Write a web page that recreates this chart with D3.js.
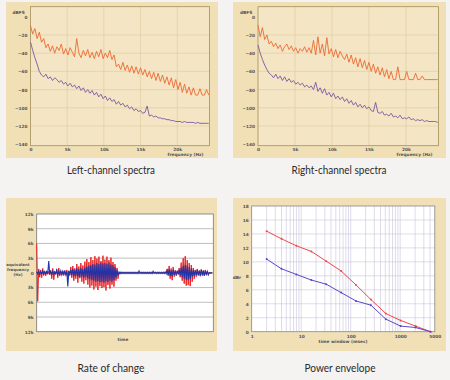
<!DOCTYPE html>
<html><head><meta charset="utf-8">
<script src="https://cdn.jsdelivr.net/npm/d3@7"></script>
<style>body{margin:0;background:#f4f3f1;} svg{display:block}</style>
</head><body><svg id="c" width="450" height="380"></svg>
<script>
// ---------- DATA ----------
const binHz = 300; // spectrum bin spacing
const leftOrange = [-10,-19,-13,-24,-17,-28,-24,-34,-30,-38,
 -32,-40,-33,-37,-30,-41,-35,-42,-34,-39,
 -44,-24,-40,-45,-37,-43,-36,-45,-39,-46,
 -38,-44,-36,-46,-40,-45,-37,-47,-42,-55,
 -52,-58,-50,-59,-53,-61,-54,-62,-55,-63,
 -56,-64,-58,-66,-60,-68,-61,-70,-62,-71,
 -64,-73,-66,-75,-67,-78,-69,-80,-72,-83,
 -74,-84,-77,-86,-78,-86,-86,-79,-86,-86,
 -80,-86];
const leftPurple = [-28,-37,-45,-52,-60,-64,-66,-63,-68,-66,
 -70,-67,-69,-72,-70,-74,-72,-76,-73,-77,
 -75,-79,-76,-81,-78,-83,-80,-84,-81,-86,
 -83,-88,-85,-90,-87,-92,-89,-93,-91,-96,
 -93,-97,-95,-99,-97,-101,-99,-103,-101,-104,
 -103,-106,-105,-98,-109,-108,-110,-109,-111,-111,
 -112,-112,-113,-113,-114,-114,-115,-115,-115,-116,
 -115,-116,-116,-116,-116,-117,-116,-117,-117,-117,
 -117,-117];
const rightOrange = [-9,-22,-12,-25,-20,-30,-27,-33,-29,-35,
 -31,-38,-33,-30,-36,-32,-38,-34,-40,-35,
 -38,-33,-39,-34,-40,-26,-42,-22,-40,-30,
 -43,-23,-41,-35,-44,-36,-45,-38,-43,-47,
 -41,-50,-42,-52,-45,-55,-46,-56,-48,-58,
 -50,-60,-52,-62,-55,-64,-56,-66,-58,-68,
 -60,-69,-69,-55,-69,-69,-69,-60,-69,-69,
 -69,-62,-69,-69,-65,-69,-69,-69,-69,-69,
 -69,-69];
const rightPurple = [-31,-40,-47,-53,-58,-62,-64,-67,-63,-68,
 -65,-70,-66,-71,-68,-72,-70,-74,-72,-75,
 -73,-77,-75,-78,-76,-80,-72,-82,-78,-84,
 -79,-86,-83,-88,-84,-90,-87,-91,-88,-93,
 -90,-95,-92,-97,-94,-99,-96,-100,-97,-101,
 -99,-103,-104,-94,-105,-106,-104,-108,-107,-109,
 -106,-110,-109,-111,-108,-112,-111,-112,-110,-113,
 -112,-114,-113,-114,-113,-115,-114,-115,-115,-115,
 -115,-116];
const dbTicks = [0,-20,-40,-60,-80,-100,-120,-140];
const freqTicks = [0,5000,10000,15000,20000];
const freqTickLabels = ["0","5k","10k","15k","20k"];

// rate of change (kHz), per time bin: upper and lower excursions
const redHi = [6.0,0.8,0.6,0.9,0.4,0.2,0.3,0.5,0.9,0.3, 0.8,1.0,0.3,0.4,0.2,0.6,0.4,1.2,1.4,0.9,
 1.8,1.3,2.0,1.5,2.3,2.8,2.2,3.2,2.6,3.4, 2.9,3.3,2.4,3.5,2.7,3.3,2.6,3.1,2.2,1.8,
 1.0, 0,0,0,0,0,0,0,0,0, 0,0,0,0,0,0,0,0,0,0, 0,0,0,0,0,
 0.8,1.4,0.9,1.2,0.5, 0.4,1.0,2.1,3.0,3.4,2.6,2.0,1.6,1.0,0.6, 0.8,0.5,0.7,0.4,0.6,0.3,0,0];
const redLo = [-5.8,-0.9,-1.0,-0.5,-0.6,-0.3,-0.4,-1.2,-1.4,-0.3, -1.0,-0.6,-0.4,-0.5,-0.3,-0.8,-0.5,-1.0,-1.6,-1.2,
 -2.0,-1.1,-1.8,-2.2,-1.5,-2.4,-3.0,-2.6,-3.4,-2.8, -3.5,-2.7,-3.1,-2.9,-3.6,-2.5,-3.2,-2.4,-2.8,-1.6,
 -1.2, 0,0,0,0,0,0,0,0,0, 0,0,0,0,0,0,0,0,0,0, 0,0,0,0,0,
 -0.6,-1.2,-1.5,-0.8,-0.6, -0.3,-0.9,-1.6,-2.2,-2.6,-2.5,-2.7,-1.8,-1.2,-0.8, -0.5,-0.7,-0.6,-0.5,-0.4,-0.3,0,0];
const blueHi = [0.2,0.3,0.2,0.4,0.2,0.3,2.4,0.3,0.4,0.2, 0.5,0.3,0.4,0.3,0.5,0.3,0.4,0.6,0.8,0.6,
 0.9,0.7,1.0,0.8,1.1,1.3,1.5,1.6,1.8,1.7, 2.0,1.8,2.1,1.9,2.0,1.8,2.1,1.7,1.6,1.2,
 0.6, 0.2,0.15,0.15,0.15,0.15,0.15,0.15,0.15,0.15, 0.15,0.4,0.15,0.15,0.15,0.15,0.15,0.15,0.3,0.15, 0.15,0.15,0.15,0.15,0.2,
 0.5,0.7,0.5,0.6,0.3, 0.3,0.6,1.0,1.4,1.6,1.5,1.2,0.9,0.6,0.5, 0.6,0.4,0.6,0.5,0.4,0.3,0.1,0];
const blueLo = [-0.2,-0.3,-0.2,-0.3,-0.2,-0.2,-0.3,-0.3,-0.3,-0.2, -0.4,-0.3,-0.4,-0.3,-0.4,-2.8,-0.3,-0.5,-0.7,-0.6,
 -0.8,-0.9,-0.8,-1.0,-0.9,-1.2,-1.3,-1.5,-1.6,-1.8, -1.7,-1.9,-1.8,-2.0,-1.7,-1.9,-1.6,-1.8,-1.5,-1.1,
 -0.5, -0.2,-0.15,-0.15,-0.15,-0.15,-0.15,-0.15,-0.15,-0.15, -0.15,-0.1,-0.15,-0.15,-0.15,-0.15,-0.15,-0.15,-0.1,-0.15, -0.15,-0.15,-0.15,-0.15,-0.2,
 -0.4,-0.6,-0.7,-0.4,-0.3, -0.2,-0.5,-0.9,-1.2,-1.4,-1.5,-1.3,-0.8,-0.6,-0.4, -0.5,-0.5,-0.4,-0.6,-0.3,-0.4,-0.1,0];
const rocTicks = [12,9,6,3,0,-3,-6,-9,-12];
const rocTickLabels = ["12k","9k","6k","3k","0","3k","6k","9k","12k"];

// power envelope
const windowMs = [2,4,8,16,32,64,128,256,512,1024,2048,4096];
const powerRed = [14.4,13.3,12.3,11.5,10.1,8.7,6.7,4.6,2.6,1.6,0.8,0];
const powerBlue = [10.4,9.0,8.2,7.4,6.8,5.6,4.4,3.8,1.8,0.8,0.6,0];
const powTicksY = [0,2,4,6,8,10,12,14,16,18];
const powTicksX = [1,10,100,1000,5000];

const captions = ["Left-channel spectra","Right-channel spectra","Rate of change","Power envelope"];

// ---------- DRAW ----------
const svg = d3.select('#c');
const BEIGE = '#f1dfb6';
const tickFont = 'DejaVu Sans';

function tickStyle(sel){
  sel.select('.domain').remove();
  sel.selectAll('text').attr('font-family',tickFont).attr('font-size',4.3)
     .attr('font-weight','bold').attr('fill','#555');
}

function spectra(o){
  const g = svg.append('g');
  g.append('rect').attr('x',o.px).attr('y',2).attr('width',o.pw).attr('height',156).attr('fill',BEIGE);
  const x = d3.scaleLinear().domain([0,24400]).range([o.l,o.r]);
  const y = d3.scaleLinear().domain([-140,0]).range([144.3,16.7]);
  g.append('rect').attr('x',o.l).attr('y',6.7).attr('width',o.r-o.l).attr('height',139)
    .attr('fill','#f4e5c4');
  g.selectAll('.hg').data(dbTicks.slice(1,-1)).join('line')
    .attr('x1',o.l).attr('x2',o.r).attr('y1',d=>y(d)).attr('y2',d=>y(d))
    .attr('stroke','#dccba0').attr('stroke-width',0.6);
  g.selectAll('.vg').data(freqTicks.slice(1)).join('line')
    .attr('x1',d=>x(d)).attr('x2',d=>x(d)).attr('y1',6.7).attr('y2',145.7)
    .attr('stroke','#dccba0').attr('stroke-width',0.6);
  g.append('rect').attr('x',o.l).attr('y',6.7).attr('width',o.r-o.l).attr('height',139)
    .attr('fill','none').attr('stroke','#a38f5c').attr('stroke-width',0.8);
  const ya = g.append('g').attr('transform',`translate(${o.l},0)`)
    .call(d3.axisLeft(y).tickValues(dbTicks).tickSize(0).tickPadding(3));
  tickStyle(ya);
  const xa = g.append('g').attr('transform',`translate(0,145.7)`)
    .call(d3.axisBottom(x).tickValues(freqTicks).tickSize(0).tickPadding(2)
      .tickFormat((d,i)=>freqTickLabels[i]));
  tickStyle(xa);
  g.append('text').attr('x',o.l-18).attr('y',13.5).text('dBFS')
    .attr('font-family',tickFont).attr('font-size',4.3).attr('font-weight','bold').attr('fill','#555');
  g.append('text').attr('x',o.r-6).attr('y',156.3).attr('text-anchor','end').text('frequency (Hz)')
    .attr('font-family',tickFont).attr('font-size',4.3).attr('font-weight','bold').attr('fill','#555');
  const line = d3.line().x((d,i)=>x(i*binHz)).y(d=>y(d));
  g.append('path').datum(o.a).attr('d',line).attr('fill','none')
    .attr('stroke','#ec6a33').attr('stroke-width',0.9).attr('stroke-linejoin','round');
  g.append('path').datum(o.b).attr('d',line).attr('fill','none')
    .attr('stroke','#7a58a0').attr('stroke-width',0.9).attr('stroke-linejoin','round');
}
spectra({px:6,pw:212,l:30.5,r:209.5,a:leftOrange,b:leftPurple});
spectra({px:233,pw:213,l:258,r:438.5,a:rightOrange,b:rightPurple});

// Rate of change
(function(){
  const g = svg.append('g');
  g.append('rect').attr('x',6).attr('y',198).attr('width',211).attr('height',153).attr('fill',BEIGE);
  const x = d3.scaleLinear().domain([0,88]).range([36.7,213.3]);
  const y = d3.scaleLinear().domain([-12,12]).range([331.7,214]);
  g.append('rect').attr('x',36.7).attr('y',214).attr('width',176.6).attr('height',117.7).attr('fill','#fff');
  g.selectAll('.hg').data(rocTicks.slice(1,-1)).join('line')
    .attr('x1',36.7).attr('x2',213.3).attr('y1',d=>y(d)).attr('y2',d=>y(d))
    .attr('stroke','#a0a0a0').attr('stroke-width',0.7);
  g.append('rect').attr('x',36.7).attr('y',214).attr('width',176.6).attr('height',117.7)
    .attr('fill','none').attr('stroke','#777').attr('stroke-width',0.8);
  const ya = g.append('g').attr('transform','translate(36.7,0)')
    .call(d3.axisLeft(y).tickValues(rocTicks).tickSize(0).tickPadding(3)
      .tickFormat((d,i)=>rocTickLabels[i]));
  tickStyle(ya);
  const zz = (hi,lo)=>{const p=[];hi.forEach((h,i)=>{p.push([i,h]);p.push([i+0.5,lo[i]]);});return p;};
  const line = d3.line().x(d=>x(d[0])).y(d=>y(d[1]));
  g.append('path').datum(zz(redHi,redLo)).attr('d',line).attr('fill','none')
    .attr('stroke','#ec2020').attr('stroke-width',1);
  g.append('path').datum(zz(blueHi,blueLo)).attr('d',line).attr('fill','none')
    .attr('stroke','#2233a8').attr('stroke-width',1.1);
  const lab = g.append('text').attr('font-family',tickFont).attr('font-size',3.9)
    .attr('font-weight','bold').attr('fill','#555').attr('text-anchor','middle');
  ["equivalent","frequency","(Hz)"].forEach((t,i)=>lab.append('tspan').attr('x',18).attr('y',266+i*5).text(t));
  g.append('text').attr('x',123).attr('y',341).attr('text-anchor','middle').text('time')
    .attr('font-family',tickFont).attr('font-size',4.3).attr('font-weight','bold').attr('fill','#555');
})();

// Power envelope
(function(){
  const g = svg.append('g');
  g.append('rect').attr('x',233).attr('y',198).attr('width',213).attr('height',153).attr('fill',BEIGE);
  const x = d3.scaleLog().domain([1,5000]).range([251.7,434.8]);
  const y = d3.scaleLinear().domain([0,18]).range([331.7,206]);
  g.append('rect').attr('x',251.7).attr('y',206).attr('width',183.1).attr('height',125.7).attr('fill','#fff');
  const minor = [];
  [1,10,100,1000].forEach(dd=>{for(let k=1;k<10;k++){const v=dd*k; if(v>1&&v<5000) minor.push(v);}});
  g.selectAll('.vg').data(minor).join('line')
    .attr('x1',d=>x(d)).attr('x2',d=>x(d)).attr('y1',206).attr('y2',331.7)
    .attr('stroke','#c8c2dc').attr('stroke-width',0.6);
  g.selectAll('.hg').data(powTicksY.slice(1,-1)).join('line')
    .attr('x1',251.7).attr('x2',434.8).attr('y1',d=>y(d)).attr('y2',d=>y(d))
    .attr('stroke','#c8c2dc').attr('stroke-width',0.6);
  g.append('rect').attr('x',251.7).attr('y',206).attr('width',183.1).attr('height',125.7)
    .attr('fill','none').attr('stroke','#888').attr('stroke-width',0.8);
  const ya = g.append('g').attr('transform','translate(251.7,0)')
    .call(d3.axisLeft(y).tickValues(powTicksY).tickSize(0).tickPadding(3));
  tickStyle(ya);
  const xa = g.append('g').attr('transform','translate(0,331.7)')
    .call(d3.axisBottom(x).tickValues(powTicksX).tickSize(0).tickPadding(3).tickFormat(d3.format('d')));
  tickStyle(xa);
  const line = d3.line().x((d,i)=>x(windowMs[i])).y(d=>y(d));
  [[powerRed,'#f04848'],[powerBlue,'#5a48c8']].forEach(([s,c])=>{
    g.append('path').datum(s).attr('d',line).attr('fill','none').attr('stroke',c).attr('stroke-width',1);
    g.selectAll(null).data(s).join('circle').attr('cx',(d,i)=>x(windowMs[i])).attr('cy',d=>y(d))
      .attr('r',1).attr('fill',c);
  });
  g.append('text').attr('x',237).attr('y',279).attr('text-anchor','middle').text('dBr')
    .attr('font-family',tickFont).attr('font-size',4.3).attr('font-weight','bold').attr('fill','#555');
  g.append('text').attr('x',343).attr('y',342.5).attr('text-anchor','middle').text('time window (msec)')
    .attr('font-family',tickFont).attr('font-size',4.3).attr('font-weight','bold').attr('fill','#555');
})();

// captions
const capPos = [[111,174,88],[339,174,95],[111,372,67],[340,372,71]];
captions.forEach((t,i)=>{
  svg.append('text').attr('x',capPos[i][0]).attr('y',capPos[i][1]).attr('text-anchor','middle')
    .attr('font-family','Lato').attr('font-size',10.5).attr('fill','#2a2a2a')
    .attr('textLength',capPos[i][2]).attr('lengthAdjust','spacingAndGlyphs').text(t);
});
</script></body></html>
